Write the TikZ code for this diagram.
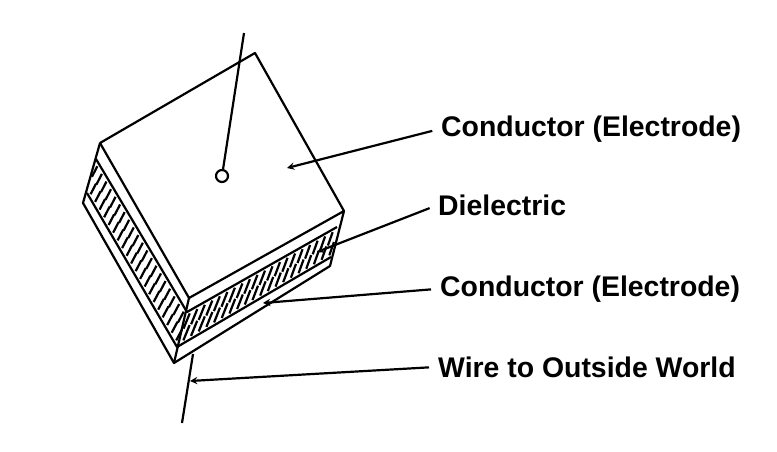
\documentclass[tikz,border=0pt]{standalone}
\usepackage{fontspec}
\setmainfont{Liberation Sans}
\usepackage{tikz}
\usetikzlibrary{calc}
\tikzset{
  edgeline/.style={line width=2.2pt,line join=round},
  hatchline/.style={line width=2.2pt},
  pointer/.style={line width=2.2pt,-stealth,shorten <=9pt},
  callout/.style={anchor=base west,inner sep=0pt,font=\fontsize{28.4}{32}\selectfont\bfseries}
}

\begin{document}
\begin{tikzpicture}[x=1pt,y=-1pt]
  \useasboundingbox (0,0) rectangle (777,452);
  % top face
  \coordinate (tl) at (100,143);
  \coordinate (tb) at (255,53);
  \coordinate (tr) at (344,211);
  \coordinate (tf) at (189,298);
  % layer edges
  \coordinate (ul) at (96,159);
  \coordinate (uf) at (187,312);
  \coordinate (ur) at (337,227);
  \coordinate (ml) at (87,193);
  \coordinate (mf) at (177,347);
  \coordinate (mr) at (331,257);
  \coordinate (bl) at (83,203);
  \coordinate (bf) at (174,363);
  \coordinate (br) at (330,266);
  % hatching
  \foreach \t in {0,1,...,19}{
    \draw[hatchline] ($($(ul)!{(\t+.5)/20}!(uf)$)!.1!($(ml)!{(\t+.5)/20}!(mf)$)$) -- ($($(ul)!{(\t+.1)/20}!(uf)$)!.5!($(ml)!{(\t+.1)/20}!(mf)$)$);
    \draw[hatchline] ($($(ul)!{(\t+1)/20}!(uf)$)!.5!($(ml)!{(\t+1)/20}!(mf)$)$) -- ($($(ul)!{(\t+.6)/20}!(uf)$)!.9!($(ml)!{(\t+.6)/20}!(mf)$)$);
  }
  \foreach \t in {0,1,...,19}{
    \draw[hatchline] ($($(uf)!{(\t+.5)/20}!(ur)$)!.1!($(mf)!{(\t+.5)/20}!(mr)$)$) -- ($($(uf)!{(\t+.2)/20}!(ur)$)!.5!($(mf)!{(\t+.2)/20}!(mr)$)$);
    \draw[hatchline] ($($(uf)!{(\t+1)/20}!(ur)$)!.5!($(mf)!{(\t+1)/20}!(mr)$)$) -- ($($(uf)!{(\t+.7)/20}!(ur)$)!.9!($(mf)!{(\t+.7)/20}!(mr)$)$);
  }
  % block
  \draw[edgeline] (tl) -- (tb) -- (tr) -- (tf) -- cycle;
  \draw[edgeline] (tl) -- (bl) -- (bf) -- (br) -- (tr);
  \draw[edgeline] (tf) -- (bf);
  \draw[edgeline] (ul) -- (uf) -- (ur);
  \draw[edgeline] (ml) -- (mf) -- (mr);
  % wires
  \node[circle,draw,line width=2.2pt,minimum size=12pt,inner sep=0pt] (hole) at (222,176) {};
  \coordinate (wireup) at (244,33);
  \coordinate (wiretop) at (193,354);
  \coordinate (wireend) at (182,423);
  \coordinate (wirehit) at (190,381);
  \draw[edgeline] (wireup) -- (hole);
  \draw[edgeline] (wiretop) -- (wireend);
  % labels
  \node[callout] (cond1) at (441,136) {Conductor (Electrode)};
  \node[callout] (diel) at (438,215) {Dielectric};
  \node[callout] (cond2) at (440,296) {Conductor (Electrode)};
  \node[callout] (wire) at (438,377) {Wire to Outside World};
  \coordinate (cond1tip) at (287,168);
  \coordinate (dieltip) at (317,252);
  \coordinate (cond2tip) at (263,303);
  \draw[pointer] (cond1.west) -- (cond1tip);
  \draw[pointer] (diel.west) -- (dieltip);
  \draw[pointer] (cond2.west) -- (cond2tip);
  \draw[pointer] (wire.west) -- (wirehit);
\end{tikzpicture}
\end{document}
